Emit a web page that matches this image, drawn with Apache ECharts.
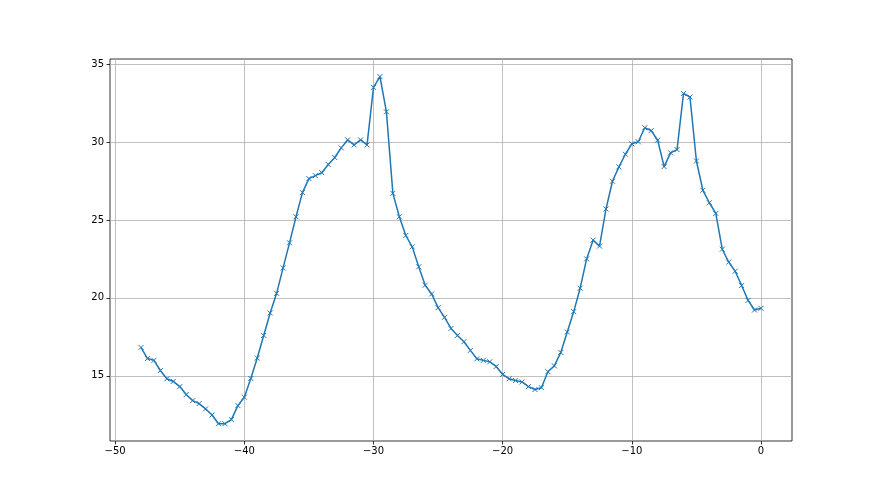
<!DOCTYPE html>
<html>
<head>
<meta charset="utf-8">
<script src="https://cdn.jsdelivr.net/npm/echarts@6/dist/echarts.min.js"></script>
<style>html,body{margin:0;padding:0;background:#fff}#c{width:880px;height:495px}</style>
</head>
<body>
<div id="c"></div>
<script>
const xStart = -48, xStep = 0.5;
const yValues = [
 16.82,16.11,15.99,15.34,14.81,14.64,14.31,13.80,13.41,13.22,
 12.88,12.49,11.93,11.93,12.19,13.09,13.63,14.83,16.14,17.59,
 19.03,20.29,21.92,23.53,25.20,26.75,27.65,27.84,28.03,28.55,
 29.00,29.62,30.13,29.81,30.13,29.81,33.50,34.19,31.93,26.70,
 25.20,24.00,23.27,21.99,20.81,20.25,19.37,18.75,18.04,17.59,
 17.19,16.63,16.09,15.99,15.90,15.60,15.09,14.81,14.70,14.61,
 14.31,14.12,14.24,15.26,15.64,16.50,17.81,19.12,20.62,22.50,
 23.70,23.32,25.70,27.48,28.40,29.21,29.88,30.01,30.91,30.73,
 30.11,28.42,29.30,29.51,33.11,32.88,28.78,26.90,26.10,25.42,
 23.12,22.29,21.71,20.79,19.84,19.22,19.33
];
const xValues = yValues.map((_, i) => xStart + i * xStep);
const xTicks = [-50, -40, -30, -20, -10, 0];
const yTicks = [15, 20, 25, 30, 35];

const data = xValues.map((x, i) => [x, yValues[i]]);
const font = 'DejaVu Sans';
const chart = echarts.init(document.getElementById('c'), null, {renderer: 'canvas'});
chart.setOption({
  animation: false,
  backgroundColor: '#fff',
  grid: {left: 110, top: 59, width: 682, height: 382, show: true, borderColor: '#000', borderWidth: 0.8, backgroundColor: 'transparent'},
  xAxis: {
    type: 'value', min: -50.4, max: 2.4,
    axisLine: {show: false, onZero: false},
    axisTick: {show: true, inside: false, length: 3.5, lineStyle: {color: '#000', width: 0.8}, customValues: xTicks},
    axisLabel: {color: '#000', fontFamily: font, fontSize: 10, margin: 5, customValues: xTicks,
      formatter: v => (v < 0 ? '\u2212' + Math.abs(v) : String(v))},
    splitLine: {show: true, lineStyle: {color: '#b0b0b0', width: 0.8}}
  },
  yAxis: {
    type: 'value', min: 10.82, max: 35.32,
    axisLine: {show: false, onZero: false},
    axisTick: {show: true, inside: false, length: 3.5, lineStyle: {color: '#000', width: 0.8}, customValues: yTicks},
    axisLabel: {color: '#000', fontFamily: font, fontSize: 10, margin: 6, customValues: yTicks},
    splitLine: {show: true, lineStyle: {color: '#b0b0b0', width: 0.8}}
  },
  series: [{
    type: 'line', data: data,
    symbol: 'path://M0,0L10,10M10,0L0,10', symbolSize: 5,
    showAllSymbol: true,
    lineStyle: {color: '#1f77b4', width: 1.5},
    itemStyle: {color: 'rgba(0,0,0,0)', borderColor: '#1f77b4', borderWidth: 1}
  }]
});
</script>
</body>
</html>
